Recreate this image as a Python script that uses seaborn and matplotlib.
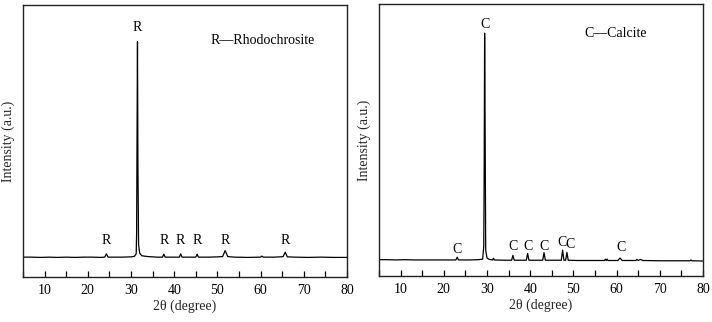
import numpy as np
import pandas as pd
import matplotlib
matplotlib.use("Agg")
import matplotlib.pyplot as plt
import seaborn as sns
from matplotlib.ticker import MultipleLocator

# XRD pattern of rhodochrosite (2theta, intensity a.u.)
rho_2theta = [5, 7, 9, 11, 13, 15, 17, 19, 21, 23, 23.9, 24.3, 24.7, 26, 28, 30, 30.8,
              31.2, 31.3, 31.4, 31.5, 31.6, 31.75, 32.0, 32.5, 34, 36, 37.3, 37.6, 37.9,
              39.5, 41.2, 41.5, 41.8, 43.5, 45.0, 45.3, 45.6, 48, 50, 51.2, 51.8, 52.4,
              54, 57, 60, 60.3, 60.6, 63, 64.5, 65.2, 65.7, 66.2, 68, 71, 74, 77, 80]
rho_int = [73, 73, 72, 73, 72, 73, 72, 73, 73, 72, 73, 85, 73, 73, 73, 74, 76,
           85, 160, 520, 865, 420, 120, 88, 78, 75, 73, 73, 84, 73,
           73, 73, 85, 73, 73, 73, 84, 73, 73, 74, 75, 97, 75,
           73, 72, 73, 77, 73, 73, 74, 75, 91, 74, 73, 72, 73, 72, 72]

# XRD pattern of calcite
cal_2theta = [5, 7, 9, 11, 13, 15, 17, 19, 21, 22.8, 23.1, 23.4, 26, 28, 29.0, 29.25,
              29.35, 29.45, 29.55, 29.7, 30.0, 30.5, 31.3, 31.5, 31.7, 34, 35.7, 36.0,
              36.3, 38, 39.1, 39.4, 39.7, 41, 42.9, 43.2, 43.5, 45, 47.2, 47.5, 47.8,
              48.2, 48.5, 48.8, 51, 54, 57.2, 57.4, 57.6, 57.8, 58.0, 60.3, 60.8, 61.3,
              63, 64.5, 64.7, 65.0, 65.6, 66.0, 70, 74, 77.0, 77.2, 77.4, 80]
cal_int = [60, 60, 59, 60, 59, 59, 59, 59, 59, 59, 69, 59, 59, 60, 62, 110,
           400, 893, 600, 95, 66, 61, 59, 65, 59, 58, 58, 76,
           58, 58, 58, 83, 58, 58, 58, 86, 58, 58, 58, 95, 58,
           58, 87, 58, 57, 57, 57, 62, 57, 62, 57, 57, 66, 57,
           57, 57, 61, 57, 61, 57, 56, 56, 56, 59, 56, 55]

# peak markers: (2theta, label centre height)
rho_marks = [24.3, 31.5, 37.6, 41.5, 45.3, 51.8, 65.7]
rho_mark_y = [136, 919, 136, 136, 136, 136, 136]
cal_marks = [23.1, 29.45, 36.0, 39.6, 43.3, 47.3, 49.3, 61.0]
cal_mark_y = [96, 923, 107, 107, 107, 124, 116, 103]

sns.set_theme(style="white")
plt.rcParams["font.family"] = ["Liberation Serif", "DejaVu Serif"]

fig = plt.figure(figsize=(7.12, 3.22), dpi=100)
ax1 = fig.add_axes([23 / 712, 45 / 322, 324 / 712, 272 / 322])
ax2 = fig.add_axes([379 / 712, 46 / 322, 324 / 712, 272 / 322])

df_rho = pd.DataFrame({"2theta": rho_2theta, "I": rho_int})
df_cal = pd.DataFrame({"2theta": cal_2theta, "I": cal_int})

panels = [
    (ax1, df_rho, rho_marks, rho_mark_y, "R", "R\u2014Rhodochrosite", 48.5, 870),
    (ax2, df_cal, cal_marks, cal_mark_y, "C", "C\u2014Calcite", 52.5, 893),
]

for ax, df, marks, mark_y, letter, legend_txt, lx, ly in panels:
    sns.lineplot(data=df, x="2theta", y="I", ax=ax, color="black", linewidth=0.9)
    for xm, ym in zip(marks, mark_y):
        ax.text(xm, ym, letter, ha="center", va="center", fontsize=10, color="black")
    ax.text(lx, ly, legend_txt, ha="left", va="center", fontsize=10, color="black")
    ax.set_xlim(5, 80)
    ax.set_ylim(0, 1000)
    ax.set_yticks([])
    ax.xaxis.set_major_locator(MultipleLocator(10))
    ax.xaxis.set_minor_locator(MultipleLocator(5))
    ax.tick_params(axis="x", which="both", direction="in", length=4, width=0.9,
                   bottom=True, top=False, labelsize=10, pad=5, colors="black")
    ax.set_xlabel("2\u03b8 (degree)", fontsize=10, labelpad=2)
    ax.set_ylabel("Intensity (a.u.)", fontsize=10, labelpad=6)
    for s in ax.spines.values():
        s.set_color("#222222")
        s.set_linewidth(1.0)

fig.savefig("out.png", dpi=100, facecolor="white")
